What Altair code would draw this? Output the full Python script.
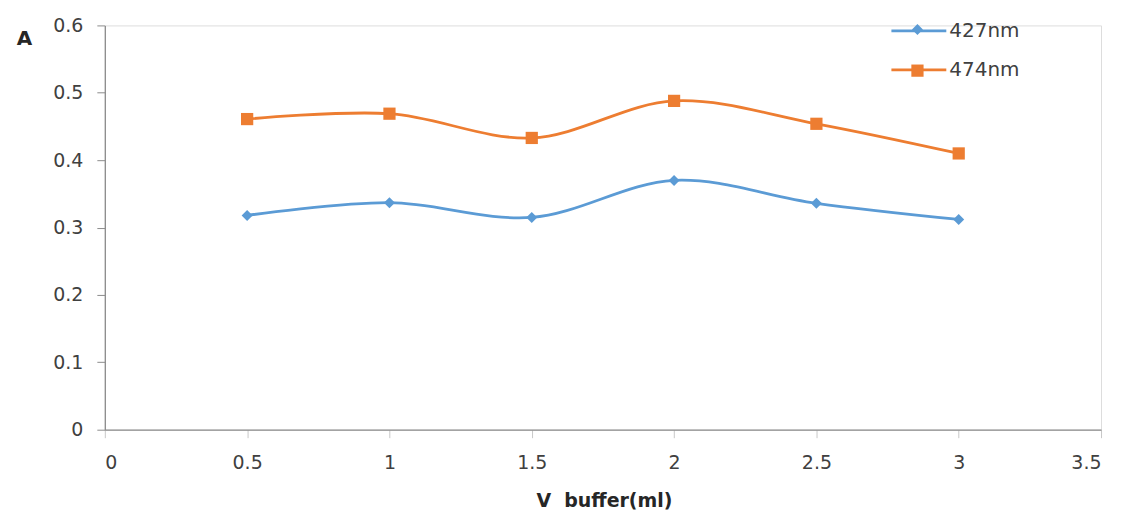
import altair as alt
import pandas as pd

# ---- data ----
x_vals = [0.5, 1, 1.5, 2, 2.5, 3]
a_427 = [0.318, 0.337, 0.315, 0.370, 0.336, 0.312]
a_474 = [0.461, 0.469, 0.433, 0.488, 0.454, 0.410]
series = ["427nm", "474nm"]
colors = ["#5B9BD5", "#ED7D31"]
x_ticks = [0, 0.5, 1, 1.5, 2, 2.5, 3, 3.5]
y_ticks = [0, 0.1, 0.2, 0.3, 0.4, 0.5, 0.6]

df = pd.DataFrame({
    "x": x_vals + x_vals,
    "A": a_427 + a_474,
    "series": [series[0]] * len(x_vals) + [series[1]] * len(x_vals),
})
# same names under a second field, so the line legend stays apart from the marker legend
df["line_series"] = df["series"]

FONT = "DejaVu Sans"
AX = "#8c8c8c"
LINE_W = 2.8
MARK_SIZE = 150

marker_paths = ["M0,-0.9L0.9,0L0,0.9L-0.9,0Z", "M-1,-1H1V1H-1Z"]

x_enc = alt.X(
    "x:Q",
    scale=alt.Scale(domain=[0, 3.5], nice=False, zero=False),
    axis=alt.Axis(
        values=x_ticks, format="~g", grid=False,
        title="V\u00a0 buffer(ml)", titleFont=FONT, titleFontSize=19,
        titleFontWeight="bold", titleColor="#262626",
        titleX=500, titleY=71, titleAlign="center", titleBaseline="middle",
        labelFont=FONT, labelFontSize=19, labelColor="#404040",
        labelPadding=16, domainColor=AX, tickColor="#c8c8c8", tickSize=8,
        domainWidth=1.3,
    ),
)
y_enc = alt.Y(
    "A:Q",
    scale=alt.Scale(domain=[0, 0.6], nice=False),
    axis=alt.Axis(
        values=y_ticks, format="~g", grid=False,
        title="A", titleFont=FONT, titleFontSize=20, titleFontWeight="bold",
        titleColor="#262626", titleAngle=0, titleX=-81, titleY=13,
        titleAlign="center", titleBaseline="middle",
        labelFont=FONT, labelFontSize=19, labelColor="#404040",
        labelPadding=14, domainColor=AX, tickColor=AX, tickSize=8,
        domainWidth=1.3,
    ),
)

# legend for the line strokes
leg_lines = alt.Legend(
    title=None, orient="none", legendX=800, legendY=-10, padding=0,
    symbolType="M-2,0H2", symbolSize=756, symbolStrokeWidth=LINE_W,
    rowPadding=13, labelOffset=15,
    labelFont=FONT, labelFontSize=20, labelColor="#404040",
)
# legend for the markers, laid over the line legend (labels hidden)
leg_marks = alt.Legend(
    title=None, orient="none", legendX=807.6, legendY=-2.5, padding=0,
    symbolSize=MARK_SIZE, rowPadding=28.3, labelFontSize=1, labelOpacity=0,
    symbolOpacity=1, symbolStrokeWidth=0,
)

lines = alt.Chart(df).mark_line(interpolate="catmull-rom", strokeWidth=LINE_W).encode(
    x=x_enc, y=y_enc,
    stroke=alt.Stroke("line_series:N", scale=alt.Scale(range=colors), legend=leg_lines),
    detail="series:N",
)

markers = alt.Chart(df).mark_point(filled=True, opacity=1, size=MARK_SIZE).encode(
    x=x_enc, y=y_enc,
    color=alt.Color("series:N", scale=alt.Scale(domain=series, range=colors), legend=leg_marks),
    shape=alt.Shape("series:N", scale=alt.Scale(domain=series, range=marker_paths), legend=leg_marks),
)

chart = alt.layer(lines, markers).properties(
    width=998, height=405,
    autosize="none",
    padding={"left": 97, "top": 17, "right": 15, "bottom": 80},
).configure_view(stroke=None).configure(background="white")

chart.save("out.html", embed_options={"renderer": "svg", "actions": False})
